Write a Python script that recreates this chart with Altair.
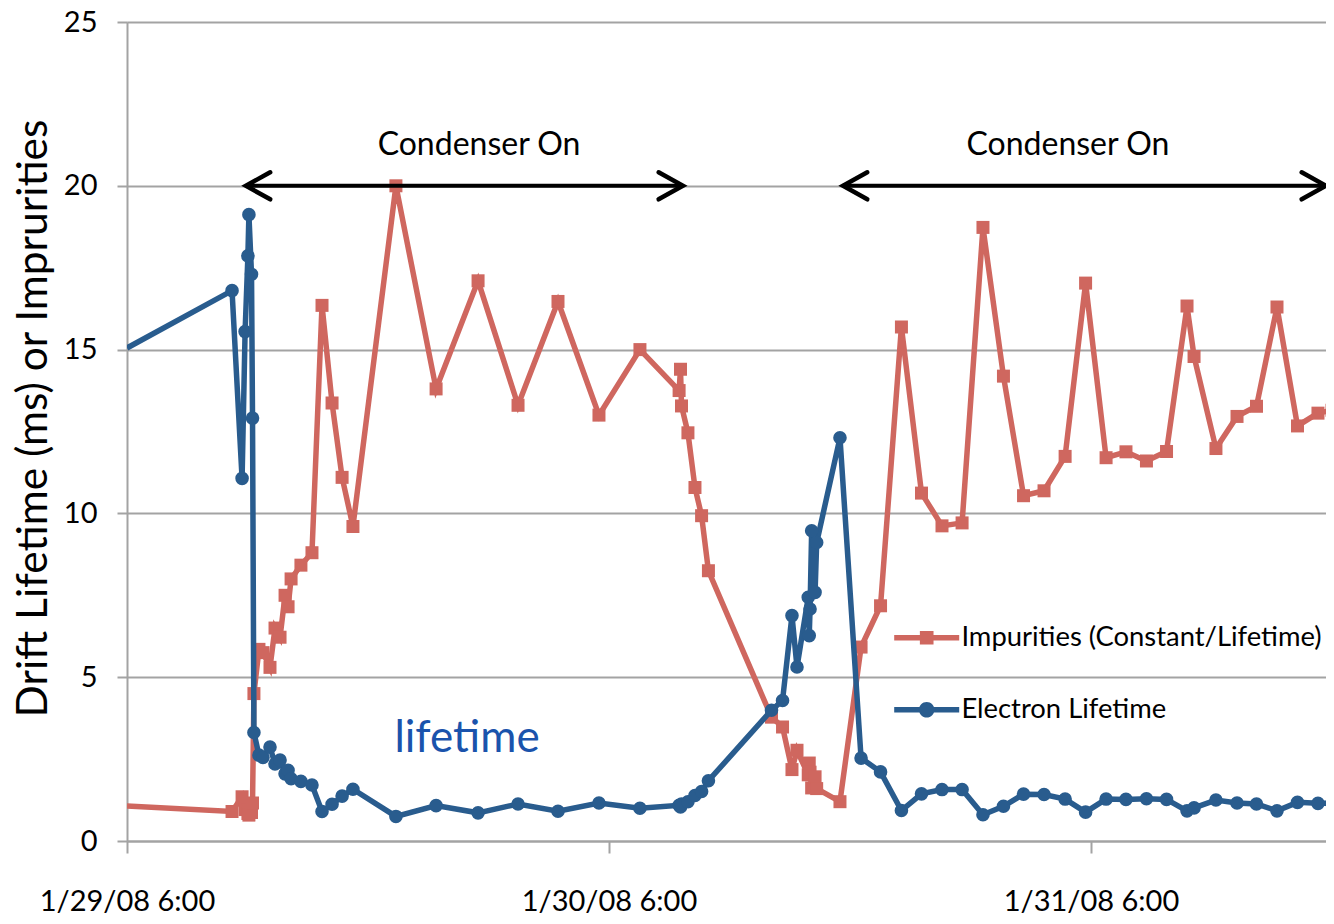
import altair as alt
import pandas as pd

# ---------------- data ----------------
# hours after 1/29/08 6:00
hours = [0.00, 5.23, 5.73, 5.88, 6.02, 6.07, 6.20, 6.25, 6.32, 6.57,
         6.77, 7.12, 7.37, 7.62, 7.87, 8.02, 8.17, 8.66, 9.21, 9.71,
         10.21, 10.71, 11.25, 13.39, 15.39, 17.48, 19.47, 21.46, 23.50, 25.54,
         27.49, 27.56, 27.61, 27.93, 28.28, 28.61, 28.95, 32.09, 32.64, 33.11,
         33.36, 33.92, 33.97, 34.01, 34.09, 34.26, 34.34, 35.50, 36.55, 37.52,
         38.56, 39.56, 40.58, 41.58, 42.62, 43.64, 44.64, 45.66, 46.71, 47.73,
         48.75, 49.74, 50.76, 51.76, 52.78, 53.13, 54.22, 55.27, 56.24, 57.26,
         58.28, 59.30, 60.00]

impurities = [1.07, 0.90, 1.35, 0.96, 0.84, 0.79, 0.87, 1.16, 4.50, 5.85,
              5.75, 5.30, 6.50, 6.22, 7.50, 7.15, 8.00, 8.42, 8.80, 16.35,
              13.37, 11.10, 9.60, 20.00, 13.80, 17.10, 13.30, 16.47, 13.00, 15.00,
              13.75, 14.40, 13.28, 12.46, 10.79, 9.93, 8.25, 3.78, 3.48, 2.18,
              2.77, 2.02, 2.38, 2.10, 1.62, 1.96, 1.60, 1.20, 5.92, 7.18,
              15.69, 10.62, 9.62, 9.71, 18.73, 14.19, 10.54, 10.69, 11.74, 17.03,
              11.70, 11.88, 11.60, 11.89, 16.33, 14.79, 11.98, 12.96, 13.27, 16.30,
              12.67, 13.06, 13.15]

lifetime = [15.05, 16.80, 11.07, 15.55, 17.86, 19.12, 17.30, 12.91, 3.31, 2.62,
            2.55, 2.87, 2.35, 2.47, 2.05, 2.16, 1.90, 1.82, 1.71, 0.90,
            1.12, 1.37, 1.58, 0.75, 1.08, 0.86, 1.13, 0.91, 1.16, 1.00,
            1.09, 1.04, 1.13, 1.20, 1.39, 1.51, 1.84, 3.99, 4.29, 6.88,
            5.31, 7.44, 6.27, 7.08, 9.47, 7.59, 9.11, 12.31, 2.53, 2.11,
            0.93, 1.44, 1.57, 1.57, 0.80, 1.06, 1.43, 1.42, 1.28, 0.88,
            1.28, 1.27, 1.29, 1.27, 0.92, 1.01, 1.25, 1.16, 1.13, 0.92,
            1.18, 1.15, 1.15]

assert len(hours) == len(impurities) == len(lifetime)

series_names = ["Impurities (Constant/Lifetime)", "Electron Lifetime"]
series_colors = ["#CF675F", "#295C8E"]

x_tick_hours = [0, 24, 48]
x_tick_labels = ["1/29/08 6:00", "1/30/08 6:00", "1/31/08 6:00"]
x_end = 59.70
y_ticks = [0, 5, 10, 15, 20, 25]

arrow_starts = [5.92, 35.65]
arrow_ends = [27.68, 59.70]
arrow_level = 20
note_hours = [17.53, 46.85]
note_texts = ["Condenser On", "Condenser On"]
note_level = 21.25
life_note_text = ["lifetime"]
life_note_hour = [16.93]
life_note_level = [3.10]

FONT = "Lato"
GRID = "#A3A3A3"

imp_df = pd.DataFrame({"t": hours, "v": impurities})
life_df = pd.DataFrame({"t": hours, "v": lifetime})
legend_df = pd.DataFrame({"series": series_names})
arrow_df = pd.DataFrame({"t": arrow_starts, "t2": arrow_ends, "v": [arrow_level] * len(arrow_starts)})
head_l_df = pd.DataFrame({"t": arrow_starts, "v": [arrow_level] * len(arrow_starts)})
head_r_df = pd.DataFrame({"t": arrow_ends, "v": [arrow_level] * len(arrow_ends)})
note_df = pd.DataFrame({"t": note_hours, "v": [note_level] * len(note_hours), "label": note_texts})
life_note_df = pd.DataFrame({"t": life_note_hour, "v": life_note_level, "label": life_note_text})

label_expr = "[{}][indexof([{}], datum.value)]".format(
    ",".join("'" + s + "'" for s in x_tick_labels),
    ",".join(str(h) for h in x_tick_hours))

X = alt.X("t:Q",
          scale=alt.Scale(domain=[0, x_end], nice=False, zero=False),
          axis=alt.Axis(values=x_tick_hours, labelExpr=label_expr, title=None,
                        grid=False, domainColor=GRID, domainWidth=2,
                        tickColor=GRID, tickWidth=2, tickSize=12,
                        labelFont=FONT, labelFontSize=29, labelColor="black",
                        labelPadding=34, labelFlush=False, labelOverlap=False))
Y = alt.Y("v:Q",
          scale=alt.Scale(domain=[0, 25], nice=False),
          axis=alt.Axis(values=y_ticks, title="Drift Lifetime (ms) or Imprurities",
                        grid=True, gridColor=GRID, gridWidth=2,
                        domainColor=GRID, domainWidth=2,
                        tickColor=GRID, tickWidth=2, tickSize=10,
                        labelFont=FONT, labelFontSize=29, labelColor="black",
                        labelPadding=20,
                        titleFont=FONT, titleFontSize=42.5, titleFontWeight="normal",
                        titleColor="black", titleX=-94, titleY=396,
                        titleAngle=270, titleAlign="center", titleBaseline="middle"))

imp_line = alt.Chart(imp_df).mark_line(color=series_colors[0], strokeWidth=5.5, clip=True).encode(x=X, y=Y)
imp_pts = alt.Chart(imp_df).transform_filter("datum.t > 0").mark_point(
    shape="square", filled=True, size=169, color=series_colors[0], opacity=1, clip=True).encode(x=X, y=Y)
life_line = alt.Chart(life_df).mark_line(color=series_colors[1], strokeWidth=5.5, clip=True).encode(x=X, y=Y)
life_pts = alt.Chart(life_df).transform_filter("datum.t > 0").mark_point(
    shape="circle", filled=True, size=185, color=series_colors[1], opacity=1, clip=True).encode(x=X, y=Y)

arrows = alt.Chart(arrow_df).mark_rule(color="black", strokeWidth=4).encode(x=X, x2="t2:Q", y=Y)
head_l = alt.Chart(head_l_df).mark_point(shape="M1.8,-1L0,0L1.8,1", filled=False, size=729,
                                         color="black", strokeWidth=4.5, opacity=1,
                                         strokeCap="round", strokeJoin="miter").encode(x=X, y=Y)
head_r = alt.Chart(head_r_df).mark_point(shape="M-1.8,-1L0,0L-1.8,1", filled=False, size=729,
                                         color="black", strokeWidth=4.5, opacity=1,
                                         strokeCap="round", strokeJoin="miter").encode(x=X, y=Y)
notes = alt.Chart(note_df).mark_text(font=FONT, fontSize=32, color="black",
                                     align="center", baseline="middle").encode(x=X, y=Y, text="label:N")
life_note = alt.Chart(life_note_df).mark_text(font=FONT, fontSize=44, color="#1A53AC",
                                              align="center", baseline="middle").encode(x=X, y=Y, text="label:N")

red_sym = "M-5,-0.42L5,-0.42L5,0.42L-5,0.42Z M-1.05,-1.05L1.05,-1.05L1.05,1.05L-1.05,1.05Z"
blue_sym = "M-5,-0.42L5,-0.42L5,0.42L-5,0.42Z M-1.2,0A1.2,1.2 0 1,1 1.2,0A1.2,1.2 0 1,1 -1.2,0Z"

leg = alt.Legend(orient="none", legendX=786, legendY=602, title=None,
                 labelFont=FONT, labelFontSize=27.4, labelColor="black",
                 labelOffset=21, rowPadding=43, symbolSize=169,
                 symbolStrokeWidth=0, padding=0, labelLimit=0)

legend_layer = alt.Chart(legend_df).transform_filter("false").mark_point(filled=True, opacity=1).encode(
    color=alt.Color("series:N", scale=alt.Scale(domain=series_names, range=series_colors), legend=leg),
    shape=alt.Shape("series:N", scale=alt.Scale(domain=series_names, range=[red_sym, blue_sym]), legend=leg),
)

chart = alt.layer(
    imp_line, imp_pts, life_line, life_pts, arrows, head_l, head_r, notes, life_note, legend_layer
).properties(
    width=1199, height=819,
    autosize=alt.AutoSizeParams(type="none"),
    padding={"left": 119, "top": 14, "right": 0, "bottom": 75},
    background="white",
).configure_view(stroke=None).configure(font=FONT)

chart.save("out.html", embed_options={"renderer": "svg", "actions": False})
